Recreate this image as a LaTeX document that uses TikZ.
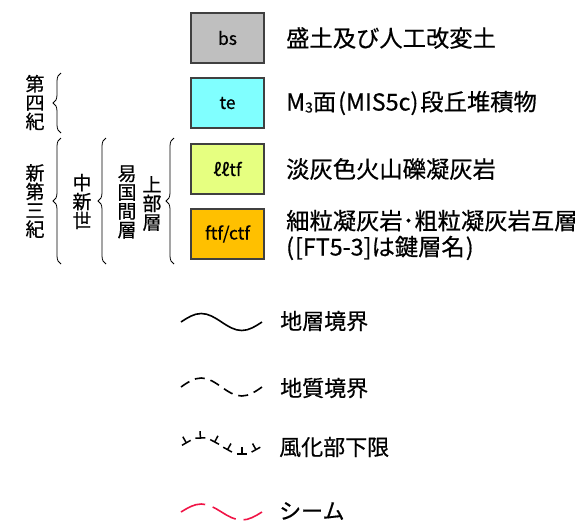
\documentclass[tikz,border=0pt]{standalone}
\usepackage{fontspec}
\setmainfont{Noto Sans CJK JP}[FakeBold=0.5]
\usetikzlibrary{decorations.pathreplacing,decorations.markings}
\definecolor{bsgray}{RGB}{191,191,191}
\definecolor{tecyan}{RGB}{128,255,255}
\definecolor{llgreen}{RGB}{230,255,128}
\definecolor{ftforange}{RGB}{255,192,0}
\definecolor{boxline}{RGB}{64,64,64}
\definecolor{seamred}{RGB}{240,20,70}
\begin{document}
\begin{tikzpicture}[x=1pt,y=-1pt,
  unitbox/.style={draw=boxline, line width=1.2pt, minimum width=73pt, minimum height=50pt, inner sep=0pt, font=\fontsize{17.5}{17.5}\selectfont},
  desc/.style={anchor=west, inner sep=0pt, font=\fontsize{23.3}{26}\selectfont, align=left},
  vtext/.style={align=center, inner sep=0pt, font=\fontsize{19}{18.8}\selectfont},
  bracefig/.style={decorate, decoration={brace, amplitude=8pt}, line width=0.8pt},
  lineleg/.style={anchor=west, inner sep=0pt, font=\fontsize{22}{22}\selectfont},
  boundline/.style={line width=1.6pt},
  weathermarks/.style={decoration={markings,
      mark=between positions 0.07 and 0.95 step 0.17 with {
        \draw[line width=1.5pt] (-5pt,0pt) -- (5pt,0pt);
        \draw[line width=1.5pt] (0pt,0pt) -- (0pt,7pt);}},
    postaction={decorate}}
]
\useasboundingbox (0,0) rectangle (584,523);

% unit boxes
\node[unitbox, fill=bsgray] (bs) at (227.5,38) {bs};
\node[unitbox, fill=tecyan] (te) at (227.5,103) {te};
\node[unitbox, fill=llgreen] (ll) at (227.5,169) {ℓℓtf};
\node[unitbox, fill=ftforange] (ftf) at (227.5,234) {ftf/ctf};

% descriptions
\node[desc] (dbs) at (286,38) {盛土及び人工改変土};
\node[desc] (dte) at (286,103) {M\raisebox{-2pt}{\fontsize{14}{14}\selectfont 3}面\kern2pt(MIS5c)\kern2pt 段丘堆積物};
\node[desc] (dll) at (286,169) {淡灰色火山礫凝灰岩};
\node[desc] (dftf) at (286,235) {細粒凝灰岩･粗粒凝灰岩互層\\(\kern1pt[FT5-3]は鍵層名\kern1pt)};

% stratigraphic labels
\node[vtext] (q) at (35,102.5) {第\\四\\紀};
\node[vtext] (ng) at (35,201) {新\\第\\三\\紀};
\node[vtext] (mi) at (82,201.5) {中\\新\\世};
\node[vtext] (ok) at (127,202) {易\\国\\間\\層};
\node[vtext] (up) at (152,203.5) {上\\部\\層};

% braces
\draw[bracefig] (61,133) -- (61,73);
\draw[bracefig] (61,264) -- (61,138);
\draw[bracefig] (106,264) -- (106,138);
\draw[bracefig] (174,264) -- (174,138);

% line legends
\draw[boundline] (181,322) sin (201.25,313.5) cos (221.5,322) sin (241.75,330.5) cos (262,322);
\node[lineleg] (l1) at (280,321) {地層境界};

\draw[boundline, dash pattern=on 10pt off 6pt] (181,387) sin (201.25,378) cos (221.5,387) sin (241.75,396) cos (262,387);
\node[lineleg] (l2) at (280,388) {地質境界};

\path[weathermarks] (181,446) sin (201.25,438) cos (221.5,446) sin (241.75,454) cos (262,446);
\node[lineleg] (l3) at (279,447) {風化部下限};

\draw[boundline, seamred, dash pattern=on 26pt off 8pt] (181,512) sin (201.25,504) cos (221.5,512) sin (241.75,520) cos (262,512);
\node[lineleg] (l4) at (279,511) {シーム};
\end{tikzpicture}
\end{document}
